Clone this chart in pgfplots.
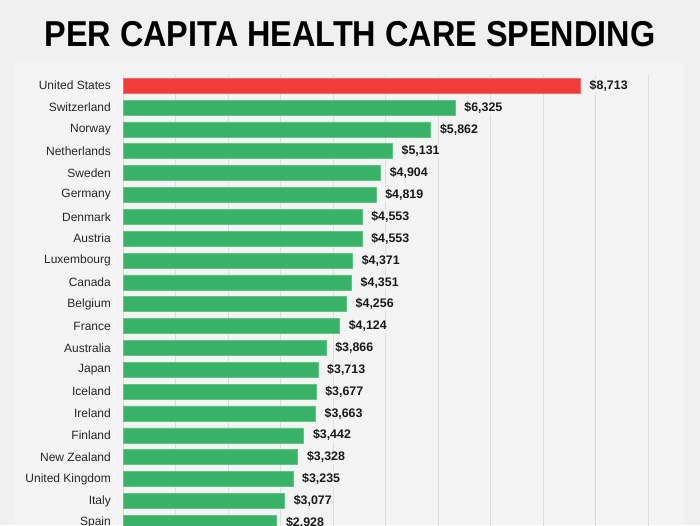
\documentclass[border=0pt]{standalone}
\usepackage{pgfplots}
\pgfplotsset{compat=1.18}
\usepackage{fontspec}
\setmainfont{Liberation Sans}
\newfontfamily\titlefont[FakeStretch=0.90]{Liberation Sans}
\definecolor{bgc}{HTML}{F0F0F0}
\definecolor{panelc}{HTML}{F4F4F4}
\definecolor{gridc}{HTML}{DDDDDD}
\definecolor{barg}{HTML}{37B266}
\definecolor{bargl}{HTML}{5EC582}
\definecolor{barr}{HTML}{F23B3B}
\definecolor{barrl}{HTML}{F56A6A}
\begin{document}
\begin{tikzpicture}[x=1pt,y=1pt]
\path[use as bounding box] (0,0) rectangle (700,525);
\clip (0,0) rectangle (700,525);
\fill[bgc] (0,0) rectangle (700,525);
\fill[panelc] (15,0) rectangle (684,462);
\node[font=\titlefont\fontsize{36}{40}\selectfont\bfseries, anchor=base] at (350,478) {PER CAPITA HEALTH CARE SPENDING};
\begin{axis}[
  at={(123pt,450pt)}, anchor=north west,
  scale only axis, width=525pt, height=469.6pt,
  xmin=0, xmax=10000, ymin=-0.49, ymax=21,
  y dir=reverse,
  axis line style={draw=none},
  xtick={0,1000,...,10000}, xticklabels={},
  major tick length=0pt,
  xmajorgrids, grid style={draw=gridc, line width=1pt},
  ytick={0,...,20},
  yticklabels={United States,Switzerland,Norway,Netherlands,Sweden,Germany,Denmark,Austria,Luxembourg,Canada,Belgium,France,Australia,Japan,Iceland,Ireland,Finland,New Zealand,United Kingdom,Italy,Spain},
  yticklabel style={font=\fontsize{12}{14}\selectfont, color=black!85, anchor=east, inner sep=0pt, xshift=-12pt},
  xbar, bar width=15pt, bar shift=0pt,
  point meta=explicit symbolic,
  nodes near coords,
  nodes near coords style={font=\fontsize{12.4}{14}\selectfont\bfseries, anchor=west, inner sep=1pt, xshift=8pt, fill=panelc, text=black!90},
  clip=false,
]
\addplot[fill=barr, draw=barrl, line width=0.6pt] table[meta=lab] {
x y lab
8713 0 \$8,713
};
\addplot[fill=barg, draw=bargl, line width=0.6pt] table[meta=lab] {
x y lab
6325 1 \$6,325
5862 2 \$5,862
5131 3 \$5,131
4904 4 \$4,904
4819 5 \$4,819
4553 6 \$4,553
4553 7 \$4,553
4371 8 \$4,371
4351 9 \$4,351
4256 10 \$4,256
4124 11 \$4,124
3866 12 \$3,866
3713 13 \$3,713
3677 14 \$3,677
3663 15 \$3,663
3442 16 \$3,442
3328 17 \$3,328
3235 18 \$3,235
3077 19 \$3,077
2928 20 \$2,928
};
\end{axis}
\end{tikzpicture}
\end{document}
